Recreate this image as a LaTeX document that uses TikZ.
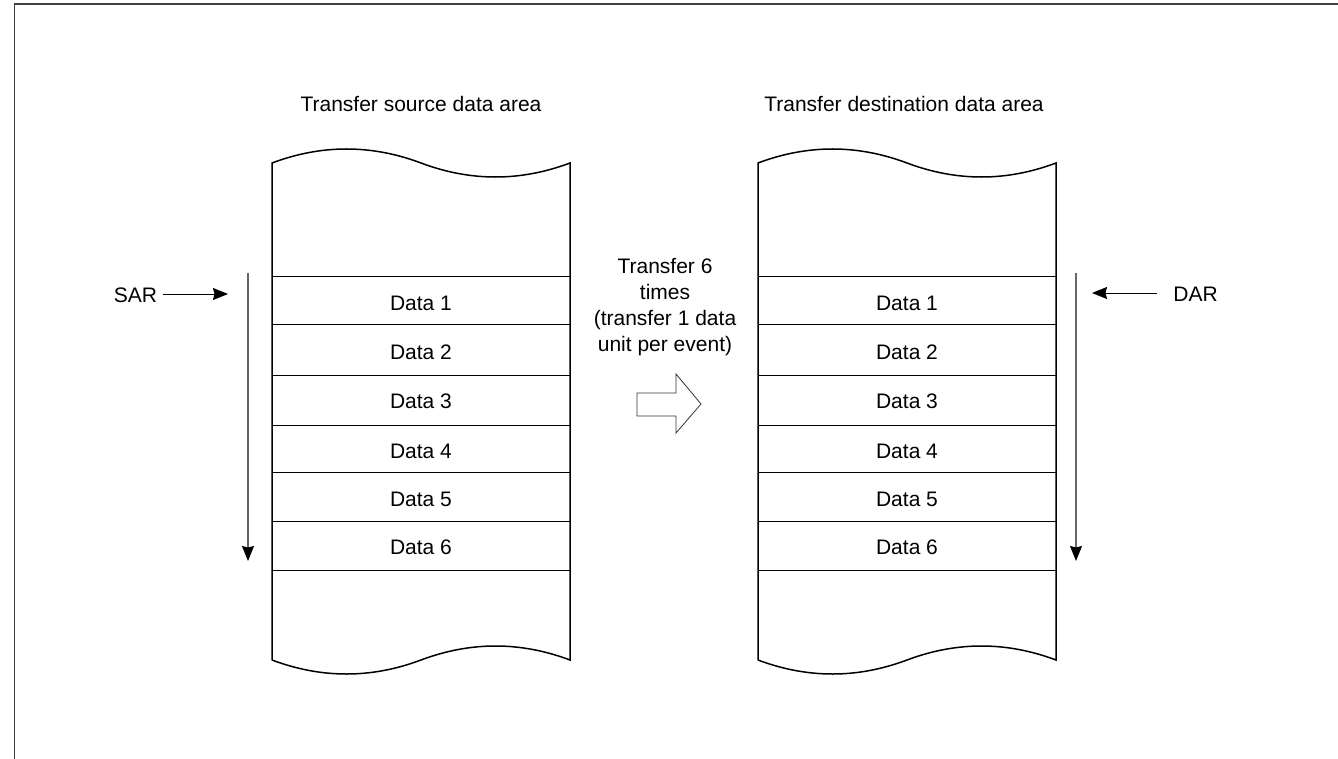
\documentclass[tikz,border=0pt]{standalone}
\usepackage{fontspec}
\setmainfont{Liberation Sans}
\usetikzlibrary{arrows.meta}
\begin{document}
\begin{tikzpicture}[x=1pt,y=-1pt,
  txt/.style={font=\fontsize{21}{25.8}\selectfont, inner sep=0pt, align=center},
  outline/.style={line width=1.5pt, black},
  rowline/.style={line width=1pt, black},
  ptr/.style={line width=1pt, -{Stealth[length=15pt,width=12pt,inset=1.5pt]}},
  scan/.style={line width=1.1pt, black!60, -{Stealth[length=15pt,width=12pt,inset=1.5pt,fill=black,color=black]}}
]
\useasboundingbox (0,0) rectangle (1338,759);
% frame
\draw[line width=1.5pt, black!75] (14.5,760) -- (14.5,4) -- (1339,4);

% ---------- source area ----------
\draw[outline] (272,660) -- (272,163)
  .. controls (321.67,144.33) and (371.33,144.33) .. (421,163)
  .. controls (470.67,181.67) and (520.33,181.67) .. (570,163)
  -- (570,660)
  .. controls (520.33,641.33) and (470.67,641.33) .. (421,660)
  .. controls (371.33,678.67) and (321.67,678.67) .. (272,660);
\foreach \yy in {277,324,375,425,472,521,570}{
  \draw[rowline] (272,\yy) -- (570,\yy);
}
\node[txt] (s1) at (421,303) {Data 1};
\node[txt] (s2) at (421,352) {Data 2};
\node[txt] (s3) at (421,401) {Data 3};
\node[txt] (s4) at (421,451) {Data 4};
\node[txt] (s5) at (421,499) {Data 5};
\node[txt] (s6) at (421,547) {Data 6};
\node[txt] (stitle) at (421,104) {Transfer source data area};

% ---------- destination area ----------
\draw[outline] (758,660) -- (758,163)
  .. controls (807.67,144.33) and (857.33,144.33) .. (907,163)
  .. controls (956.67,181.67) and (1006.33,181.67) .. (1056,163)
  -- (1056,660)
  .. controls (1006.33,641.33) and (956.67,641.33) .. (907,660)
  .. controls (857.33,678.67) and (807.67,678.67) .. (758,660);
\foreach \yy in {277,324,375,425,472,521,570}{
  \draw[rowline] (758,\yy) -- (1056,\yy);
}
\node[txt] (d1) at (907,303) {Data 1};
\node[txt] (d2) at (907,352) {Data 2};
\node[txt] (d3) at (907,401) {Data 3};
\node[txt] (d4) at (907,451) {Data 4};
\node[txt] (d5) at (907,499) {Data 5};
\node[txt] (d6) at (907,547) {Data 6};
\node[txt] (dtitle) at (904,104) {Transfer destination data area};

% ---------- pointers ----------
\node[txt] (sar) at (135.5,295) {SAR};
\coordinate (sarend) at (228,294);
\draw[ptr] (163,294) -- (sarend);
\coordinate (sscantop) at (248,273);
\coordinate (sscanbot) at (248,561);
\draw[scan] (sscantop) -- (sscanbot);

\node[txt] (dar) at (1195.5,294) {DAR};
\coordinate (darend) at (1092,293);
\draw[ptr] (1157,293) -- (darend);
\coordinate (dscantop) at (1076,273);
\coordinate (dscanbot) at (1076,561);
\draw[scan] (dscantop) -- (dscanbot);

% ---------- middle ----------
\node[txt] (mid) at (665,307) {Transfer 6\\times\\(transfer 1 data\\unit per event)};
\draw[line width=0.8pt, black!80] (637,393) -- (676,393) -- (676,374) -- (701,404)
  -- (676,433) -- (676,416) -- (637,416) -- cycle;
\end{tikzpicture}
\end{document}
